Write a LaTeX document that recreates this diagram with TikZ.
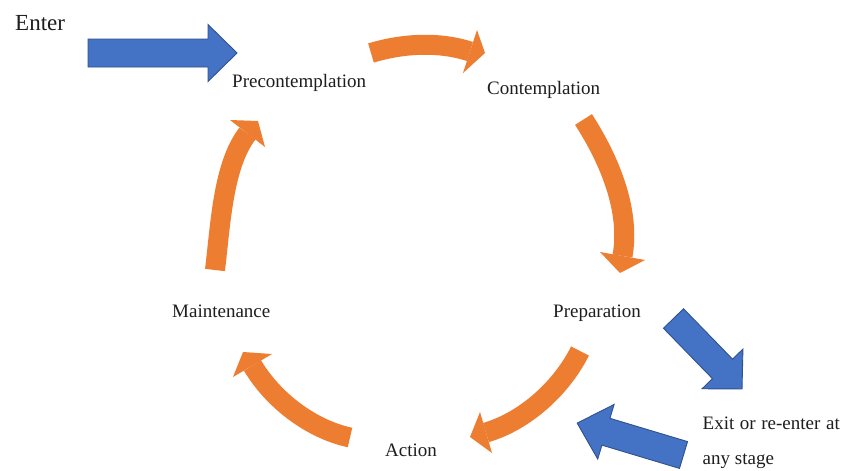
\documentclass[tikz,border=0pt]{standalone}
\usepackage{fontspec}
\setmainfont{Liberation Serif}
\definecolor{orangec}{HTML}{ED7D31}
\definecolor{bluec}{HTML}{4472C4}
\definecolor{blueborder}{HTML}{2F528F}
\definecolor{textc}{HTML}{1E1E1E}
\newcommand{\bluearrow}[5]{%
  \begin{scope}[shift={(#1,#2)}, rotate=#3]
    \filldraw[bluearr] (0,14) -- ({#4-#5},14) -- ({#4-#5},28.5) -- (#4,0)
      -- ({#4-#5},-28.5) -- ({#4-#5},-14) -- (0,-14) -- cycle;
  \end{scope}}
\begin{document}
\begin{tikzpicture}[x=1pt,y=-1pt,
  lbl/.style={anchor=base west, inner sep=0pt, text=textc, font=\fontsize{19}{23}\selectfont},
  shaft/.style={draw=orangec, line width=20pt},
  headtri/.style={fill=orangec},
  bluearr/.style={fill=bluec, draw=blueborder, line width=0.9pt, line join=miter}]
\useasboundingbox (0,0) rectangle (847,471);
\fill[white] (0,0) rectangle (847,471);

% labels
\node[lbl, font=\fontsize{23}{27}\selectfont] (enter) at (15,30.5) {Enter};
\node[lbl] (pre) at (232,87.5) {Precontemplation};
\node[lbl] (con) at (487,94) {Contemplation};
\node[lbl] (prep) at (553,317) {Preparation};
\node[lbl] (act) at (385,456) {Action};
\node[lbl] (main) at (172,317) {Maintenance};
\node[lbl] (exit1) at (702.5,429.5) {\spaceskip=5.6pt plus 1pt Exit or re-enter at};
\node[lbl] (exit2) at (702.5,464.5) {any stage};

% orange cycle arrows
\coordinate (t1) at (371,53);   \coordinate (b1) at (470,51.5);
\draw[shaft] (t1) .. controls (402.6,43.4) and (438.6,41.3) .. (b1);
\fill[headtri] (477,30) -- (485,53) -- (463,73) -- cycle;

\coordinate (t2) at (583.5,119.5); \coordinate (b2) at (622.5,256);
\draw[shaft] (t2) .. controls (608.9,159) and (630.7,209.7) .. (b2);
\fill[headtri] (600,252) -- (620,273) -- (645,260) -- cycle;

\coordinate (t3) at (580,351); \coordinate (b3) at (486,432.5);
\draw[shaft] (t3) .. controls (561.7,387.7) and (525.4,421) .. (b3);
\fill[headtri] (480,412) -- (470,437) -- (492,453) -- cycle;

\coordinate (t4) at (350,437.5); \coordinate (b4) at (252.5,365.5);
\draw[shaft] (t4) .. controls (310.8,429.1) and (272.9,399.9) .. (b4);
\fill[headtri] (272,354) -- (243,352) -- (233,377) -- cycle;

\coordinate (t5) at (215,270); \coordinate (b5) at (247.5,133.5);
\draw[shaft] (t5) .. controls (220.6,223.5) and (223.1,165.1) .. (b5);
\fill[headtri] (230,120) -- (258,121) -- (265,147) -- cycle;

% blue block arrows
\bluearrow{88}{53}{0}{149}{29}
\bluearrow{673.5}{318.5}{-45.8}{98.3}{28}
\bluearrow{683.5}{455}{163.3}{111}{30}
\end{tikzpicture}
\end{document}
